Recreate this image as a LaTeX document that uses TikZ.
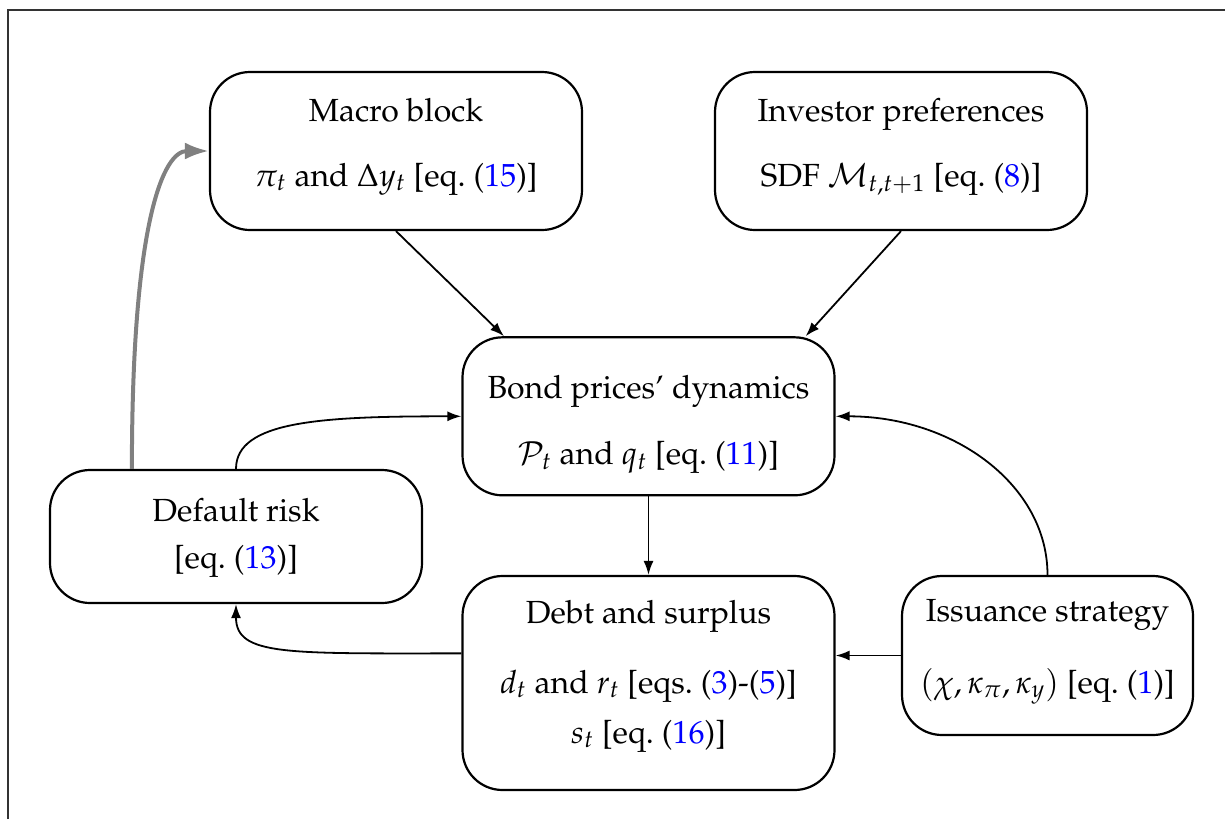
\documentclass[tikz,border=0pt]{standalone}
\usepackage[T1]{fontenc}
\usepackage{mathpazo}
\usetikzlibrary{arrows.meta}
\definecolor{refblue}{RGB}{0,0,255}
\newcommand{\rf}[1]{\textcolor{refblue}{#1}}
\newcommand{\hstrut}[1]{\rule{0pt}{#1}}
\newcommand{\dstrut}[1]{\rule[-#1]{0pt}{0pt}}
\tikzset{
  box/.style={draw, line width=1.1pt, rounded corners=20pt, inner sep=0pt, align=center,
    minimum width=186pt, minimum height=79pt},
  conn/.style={line width=0.9pt, -{Latex[length=7pt,width=5pt]}},
  grayconn/.style={line width=2pt, draw=black!50, -{Latex[length=12pt,width=8.5pt]}},
}
\begin{document}
\begin{tikzpicture}[x=0.5pt,y=-0.5pt]
\useasboundingbox (0,0) rectangle (1225,819);
\draw[line width=0.8pt, black!80] (8,819) -- (8,10) -- (1225,10);

\node[box, font={\fontsize{16}{32.25}\selectfont}] (macro) at (396,151)
  {\hstrut{12.75pt}Macro block\\ $\pi_t$ and $\Delta y_t$ [eq.~(\rf{15})]\dstrut{10pt}};
\node[box, font={\fontsize{16}{32.25}\selectfont}] (inv) at (901,151)
  {\hstrut{12.75pt}Investor preferences\\ SDF $\mathcal{M}_{t,t+1}$ [eq.~(\rf{8})]\dstrut{10pt}};
\node[box, font={\fontsize{16}{33}\selectfont}] (bond) at (648.5,416.3)
  {\hstrut{21pt}Bond prices' dynamics\\ $\mathcal{P}_t$ and $q_t$ [eq.~(\rf{11})]\dstrut{6pt}};
\node[box, minimum height=66.5pt, font={\fontsize{16}{23.5}\selectfont}] (def) at (236,536.5)
  {\hstrut{15pt}Default risk\\[0pt] {[eq.~(\rf{13})]}\dstrut{7pt}};
\node[box, minimum height=107pt, font={\fontsize{16}{25}\selectfont}] (debt) at (648.5,683)
  {\hstrut{12pt}Debt and surplus\\[10pt] $d_t$ and $r_t$ [eqs.~(\rf{3})-(\rf{5})]\\ $s_t$ [eq.~(\rf{16})]\dstrut{12pt}};
\node[box, minimum width=145.5pt, minimum height=79.5pt, font={\fontsize{16}{36}\selectfont}] (iss) at (1047.5,655.5)
  {\hstrut{12.5pt}Issuance strategy\\ $(\chi,\kappa_\pi,\kappa_y)$ [eq.~(\rf{1})]\dstrut{11pt}};

\draw[conn] (macro.south) -- (bond.151.6);
\draw[conn] (inv.south) -- (bond.27.9);
\draw[conn] (bond.south) -- (debt.north);
\draw[conn] (iss.west) -- (iss.west -| debt.east);
\draw[conn] (iss.north) .. controls +(0,-90) and +(118,0) .. (bond.east);
\draw[conn] (def.north) .. controls +(0,-48) and +(-140,0) .. (bond.west);
\draw[conn] (debt.171.7) .. controls +(-175,0) and +(0,52) .. (def.south);
\draw[grayconn] (def.147.9) .. controls +(0,-250) and +(-45,0) .. (macro.west);
\end{tikzpicture}
\end{document}
